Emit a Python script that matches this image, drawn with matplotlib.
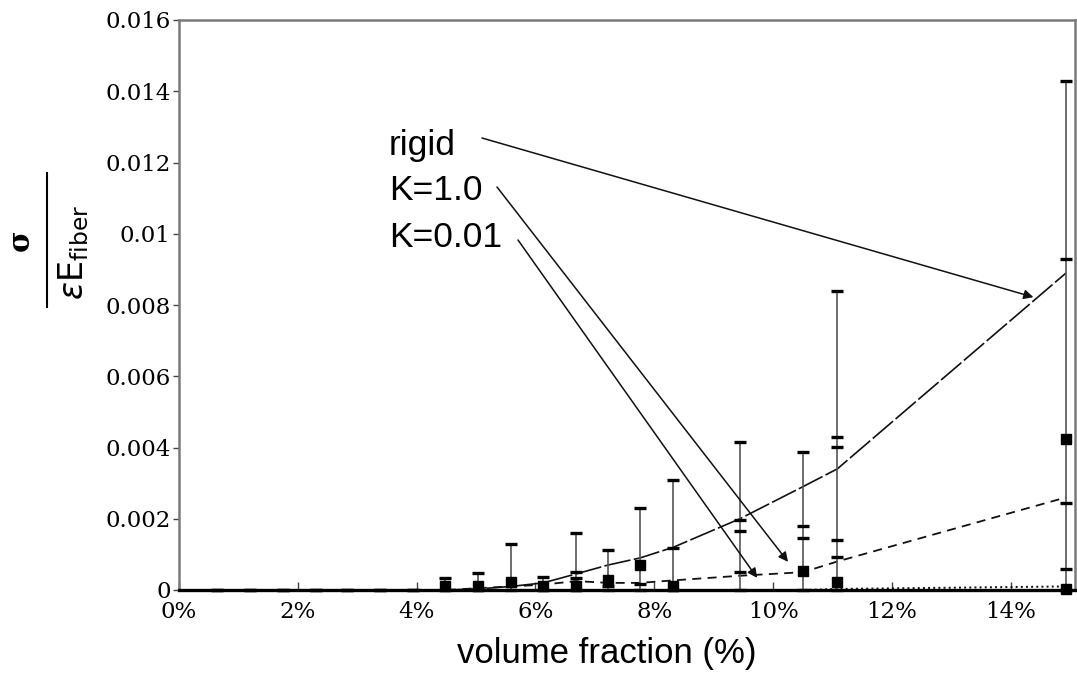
import numpy as np
import matplotlib.pyplot as plt
from matplotlib.lines import Line2D
from matplotlib.ticker import FuncFormatter, MultipleLocator

# volume fractions (%) of the simulated runs
vol_frac = [0.64, 1.2, 1.75, 2.3, 2.83, 3.38, 3.94, 4.48, 5.03, 5.59,
            6.13, 6.68, 7.22, 7.76, 8.32, 9.44, 10.5, 11.08, 14.93]

# fitted stiffness curves for the three interface models
rigid = [0, 0, 0, 0, 0, 0, 0, 0, 0.00003, 0.0001, 0.0002, 0.00045,
         0.0007, 0.0009, 0.0012, 0.002, 0.0029, 0.0034, 0.0089]
k_1 = [0, 0, 0, 0, 0, 0, 0, 0, 0.00005, 0.0001, 0.00015, 0.00025,
       0.0002, 0.0002, 0.00027, 0.0004, 0.0005, 0.0008, 0.0026]
k_001 = [0, 0, 0, 0, 0, 0, 0, 0, 0, 0, 0, 0,
         0, 0, 0, 0, 0, 0.00003, 0.0001]

# spread of the runs at each volume fraction
bar_bottom = [0] * len(vol_frac)
bar_top = [0, 0, 0, 0, 0, 0, 0, 0.00034, 0.00049, 0.0013, 0.00036, 0.0016,
           0.00112, 0.0023, 0.0031, 0.00415, 0.00387, 0.0084, 0.0143]

# intermediate statistics drawn as dashes on the bars
mid_x = [6.68, 6.68, 7.22, 7.76, 8.32, 9.44, 9.44, 9.44, 10.5, 10.5,
         11.08, 11.08, 11.08, 11.08, 14.93, 14.93, 14.93]
mid_y = [0.0005, 0.00035, 0.00012, 0.00017, 0.00118, 0.00196, 0.00167, 0.0005,
         0.0018, 0.00147, 0.0043, 0.00402, 0.0014, 0.00094, 0.0093, 0.00244, 0.00059]

# mean values (square markers)
mean_x = [4.48, 5.03, 5.59, 6.13, 6.68, 7.22, 7.76, 8.32, 10.5, 11.08, 14.93, 14.93]
mean_y = [0.0001, 0.0001, 0.00022, 0.0001, 0.0001, 0.00028, 0.0007, 0.00012,
          0.00053, 0.00023, 0.00424, 0.00003]

fig = plt.figure(figsize=(10.77, 6.85), dpi=100)
ax = fig.add_axes([179 / 1077, 95 / 685, 896 / 1077, 570 / 685])

lower = np.array(bar_top) * 0
upper = np.array(bar_top) - np.array(bar_bottom)
eb = ax.errorbar(vol_frac, bar_bottom, yerr=[lower, upper], fmt="none",
                 ecolor="#555555", elinewidth=1.2, capsize=4.5, capthick=2.4,
                 zorder=3)
for cap in eb[1]:
    cap.set_markeredgecolor("black")
    cap.set_clip_on(False)

ax.plot(mid_x, mid_y, ls="none", marker="_", ms=9, mew=2.4, color="black", zorder=4)
ax.plot(mean_x, mean_y, ls="none", marker="s", ms=7.5, color="black",
        zorder=4, clip_on=False)

ax.plot(vol_frac, rigid, color="#111111", lw=1.2, dashes=(16, 2), zorder=2)
ax.plot(vol_frac, k_1, color="#111111", lw=1.3, dashes=(5, 3.5), zorder=2)
ax.plot(vol_frac, k_001, color="#111111", lw=1.4, ls=":", zorder=2)

ax.set_xlim(0, 15.08)
ax.set_ylim(0, 0.016)
ax.xaxis.set_major_locator(MultipleLocator(2))
ax.yaxis.set_major_locator(MultipleLocator(0.002))
ax.xaxis.set_major_formatter(FuncFormatter(lambda v, p: f"{v:g}%"))
ax.yaxis.set_major_formatter(FuncFormatter(lambda v, p: f"{v:g}"))

ax.tick_params(axis="x", direction="in", length=6, width=1, color="#444444",
               pad=8, labelsize=16.5)
ax.tick_params(axis="y", direction="out", length=4, width=1, color="#444444",
               pad=2, labelsize=16.5)
for lab in ax.get_xticklabels() + ax.get_yticklabels():
    lab.set_family("DejaVu Serif")

for side in ["left", "top", "right"]:
    ax.spines[side].set_color("#7a7a7a")
    ax.spines[side].set_linewidth(1.8)
ax.spines["bottom"].set_color("black")
ax.spines["bottom"].set_linewidth(2.4)

ax.set_xlabel("volume fraction (%)", family="Liberation Sans", fontsize=25)
ax.xaxis.set_label_coords(428 / 896, -0.082)

# y label as a stacked fraction: sigma over eps*E_fiber
fig.text(20 / 1077, 1 - 240 / 685, "σ", rotation=90, family="DejaVu Serif",
         weight="bold", fontsize=21, ha="center", va="center")
fig.add_artist(Line2D([47 / 1077, 47 / 1077], [1 - 173 / 685, 1 - 307 / 685],
                      color="black", lw=1.5))
fig.text(74 / 1077, 1 - 252 / 685, r"$\epsilon\mathrm{E}_{\mathrm{fiber}}$",
         rotation=90, fontsize=24, ha="center", va="center")

# curve labels, each with an arrow running from its right end
labels = ["rigid", "K=1.0", "K=0.01"]
label_base = [155, 200, 247]
arrow_from = [(482, 138), (497, 187), (518, 240)]
arrow_to = [(14.38, 0.00822), (10.25, 0.00079), (9.73, 0.00034)]

arrow = dict(arrowstyle="-|>", color="#111111", lw=1.1,
             mutation_scale=14, shrinkA=0, shrinkB=0)
for text, base, start, tip in zip(labels, label_base, arrow_from, arrow_to):
    fig.text(389 / 1077, 1 - base / 685, text, fontsize=25.5,
             family="Liberation Sans", ha="left", va="baseline")
    ax.annotate("", xy=tip, xytext=(start[0], 685 - start[1]),
                textcoords="figure pixels", arrowprops=arrow)

fig.savefig("out.png", dpi=100)
